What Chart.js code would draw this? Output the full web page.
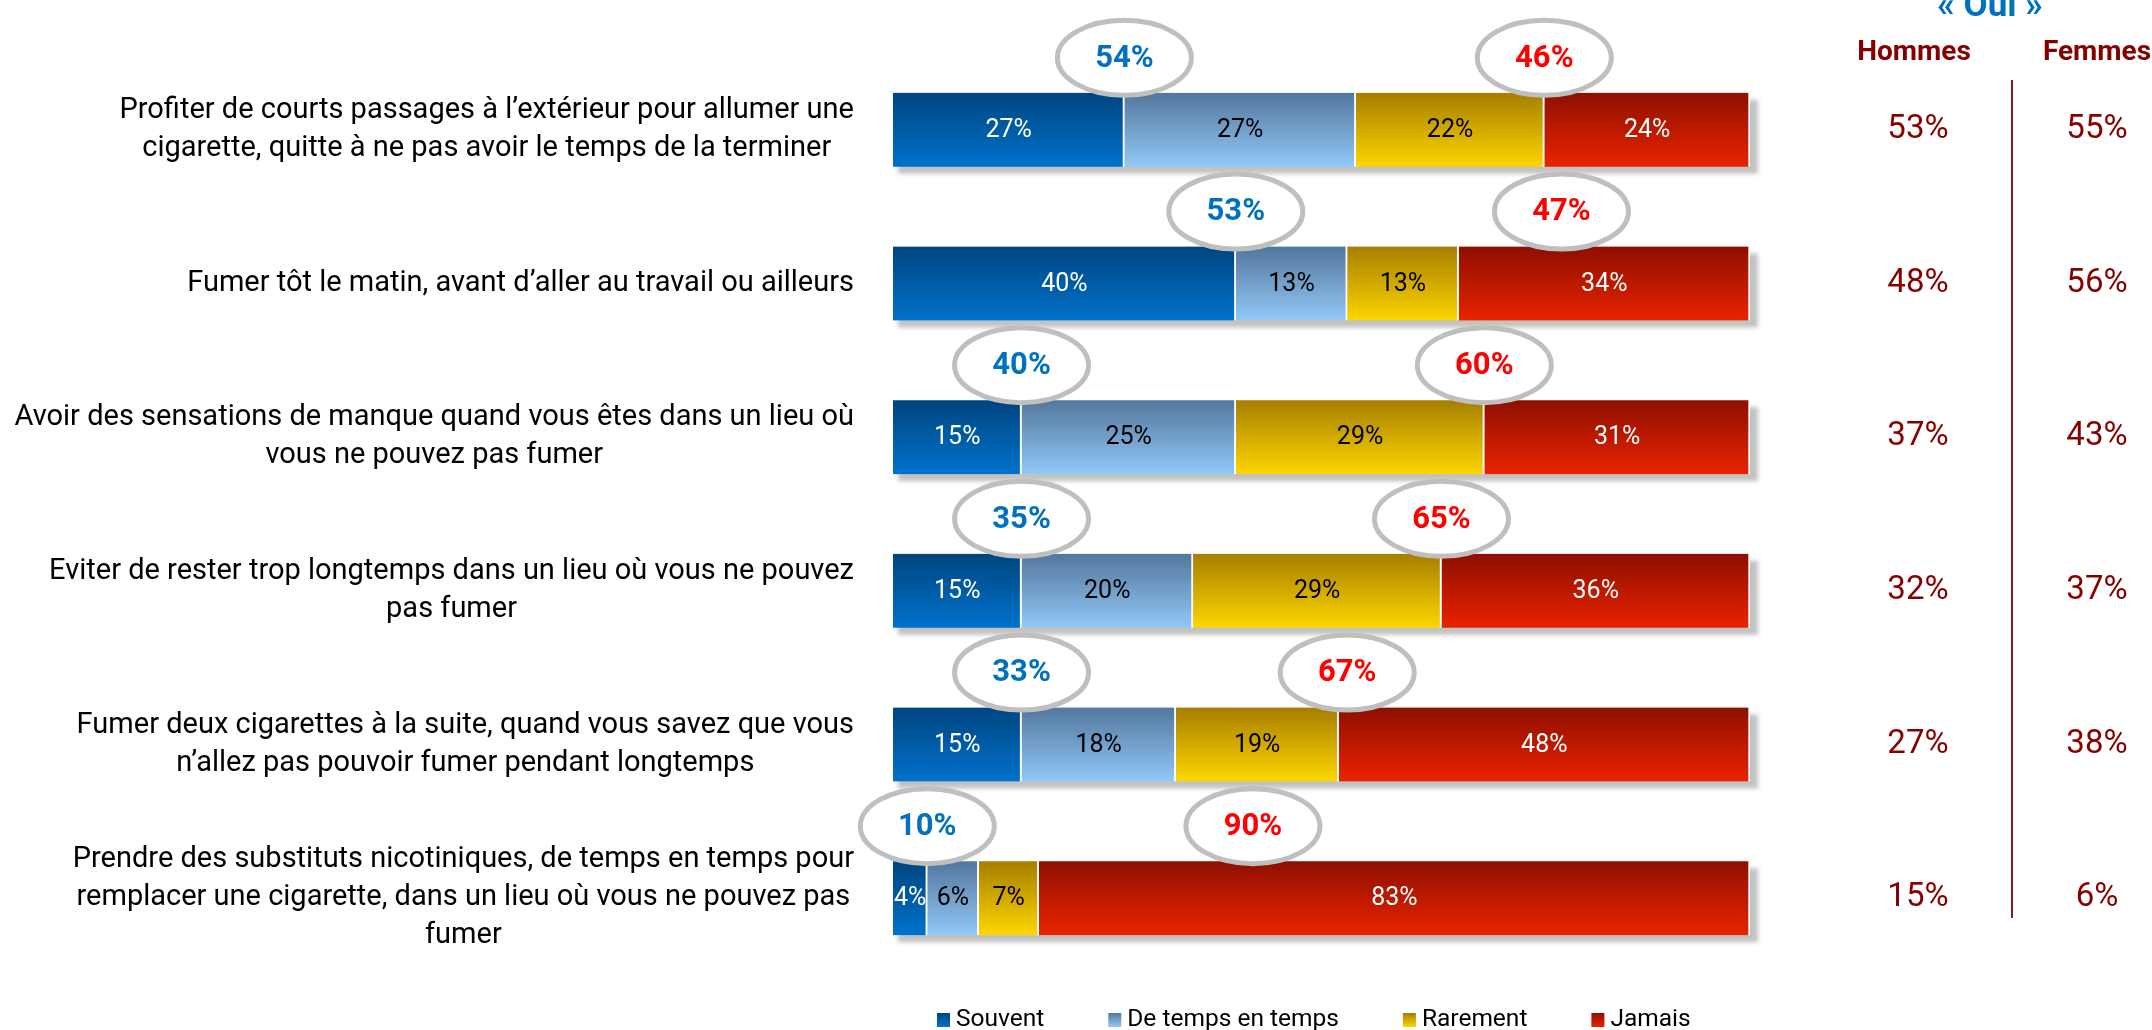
<!DOCTYPE html>
<html>
<head>
<meta charset="utf-8">
<script src="https://cdn.jsdelivr.net/npm/chart.js@4/dist/chart.umd.min.js"></script>
<style>
  html, body { margin: 0; padding: 0; background: #fff; }
  #wrap { width: 2152px; height: 1030px; position: relative; }
</style>
</head>
<body>
<div id="wrap"><canvas id="habitsChart"></canvas></div>
<script>
 const items = [
   ["Profiter de courts passages à l’extérieur pour allumer une", "cigarette, quitte à ne pas avoir le temps de la terminer"],
   ["Fumer tôt le matin, avant d’aller au travail ou ailleurs"],
   ["Avoir des sensations de manque quand vous êtes dans un lieu où", "vous ne pouvez pas fumer"],
   ["Eviter de rester trop longtemps dans un lieu où vous ne pouvez", "pas fumer"],
   ["Fumer deux cigarettes à la suite, quand vous savez que vous", "n’allez pas pouvoir fumer pendant longtemps"],
   ["Prendre des substituts nicotiniques, de temps en temps pour", "remplacer une cigarette, dans un lieu où vous ne pouvez pas", "fumer"]
 ];
 const souvent  = [27, 40, 15, 15, 15, 4];
 const deTemps  = [27, 13, 25, 20, 18, 6];
 const rarement = [22, 13, 29, 29, 19, 7];
 const jamais   = [24, 34, 31, 36, 48, 83];
 const ouiHommes = [53, 48, 37, 32, 27, 15];
 const ouiFemmes = [55, 56, 43, 37, 38, 6];
 const seriesNames = ["Souvent", "De temps en temps", "Rarement", "Jamais"];

 const FONT = "Roboto, 'Noto Sans', sans-serif";
 const barH = 74;
 const darkRed = '#860000';

 // vertical gradient for each bar segment, like the office-style bars
 function fade(top, bottom) {
    return function (c) {
       const y = c.chart.scales.y;
       if (c.type !== 'data' || !y) return bottom;
       const mid = y.getPixelForValue(c.dataIndex);
       if (!isFinite(mid)) return bottom;
       const g = c.chart.ctx.createLinearGradient(0, mid - barH / 2, 0, mid + barH / 2);
       g.addColorStop(0, top);
       g.addColorStop(1, bottom);
       return g;
    };
 }

 const palette = [
    { top: '#00457f', bottom: '#0072cc', text: '#fff' },
    { top: '#53779d', bottom: '#92c8f7', text: '#000' },
    { top: '#a67e00', bottom: '#fdd600', text: '#000' },
    { top: '#8e0f00', bottom: '#ea2300', text: '#fff' }
 ];

 const allSeries = [souvent, deTemps, rarement, jamais];

 const datasets = allSeries.map(function (values, k) {
    return {
       label: seriesNames[k],
       data: values,
       backgroundColor: fade(palette[k].top, palette[k].bottom),
       borderColor: '#ffffff',
       borderWidth: { left: 0, right: 2, top: 0, bottom: 0 },
       borderSkipped: false,
       barThickness: barH
    };
 });

 // soft grey drop shadow under every bar row
 const shadowPlugin = {
    id: 'rowShadow',
    beforeDatasetsDraw(chart) {
       const ctx = chart.ctx, x = chart.scales.x, y = chart.scales.y;
       ctx.save();
       ctx.fillStyle = '#c2c2c2';
       ctx.filter = 'blur(2px)';
       items.forEach(function (_, i) {
          const total = souvent[i] + deTemps[i] + rarement[i] + jamais[i];
          const mid = y.getPixelForValue(i);
          const x0 = x.getPixelForValue(0), x1 = x.getPixelForValue(total);
          ctx.fillRect(x0 + 5, mid - barH / 2 + 7, x1 - x0 + 3, barH);
       });
       ctx.restore();
    }
 };

 // labels inside the segments and the two ellipses above each bar
 const valuePlugin = {
    id: 'barValues',
    afterDatasetsDraw(chart) {
       const ctx = chart.ctx, x = chart.scales.x, y = chart.scales.y;
       ctx.save();
       ctx.textAlign = 'center';
       ctx.textBaseline = 'middle';
       ctx.font = '25px ' + FONT;
       chart.data.datasets.forEach(function (ds, k) {
          const meta = chart.getDatasetMeta(k);
          meta.data.forEach(function (bar, i) {
             ctx.fillStyle = palette[k].text;
             ctx.fillText(ds.data[i] + '%', (bar.x + bar.base) / 2, bar.y + 1);
          });
       });

       items.forEach(function (_, i) {
          const mid = y.getPixelForValue(i);
          const cy = mid - 72;
          const yes = souvent[i] + deTemps[i];
          const no = rarement[i] + jamais[i];
          const jamaisStart = souvent[i] + deTemps[i] + rarement[i];
          const bubbles = [
             { at: souvent[i], txt: yes + '%', col: '#0070c0' },
             { at: Math.max(jamaisStart, souvent[i] + 38), txt: no + '%', col: '#ff0000' }
          ];
          bubbles.forEach(function (b) {
             const cx = x.getPixelForValue(b.at);
             ctx.beginPath();
             ctx.ellipse(cx, cy, 67, 37.5, 0, 0, Math.PI * 2);
             ctx.fillStyle = '#fff';
             ctx.fill();
             ctx.lineWidth = 5;
             ctx.strokeStyle = '#bfbfbf';
             ctx.stroke();
             ctx.fillStyle = b.col;
             ctx.font = 'bold 31px ' + FONT;
             ctx.fillText(b.txt, cx, cy + 1);
          });
       });
       ctx.restore();
    }
 };

 // item texts on the left, "Oui" columns on the right, legend at the bottom
 const sidePlugin = {
    id: 'sideTexts',
    afterDraw(chart) {
       const ctx = chart.ctx, y = chart.scales.y, area = chart.chartArea;
       ctx.save();
       ctx.textBaseline = 'middle';

       ctx.font = '29px ' + FONT;
       ctx.fillStyle = '#000';
       ctx.textAlign = 'center';
       items.forEach(function (lines, i) {
          const mid = y.getPixelForValue(i);
          const maxW = Math.max.apply(null, lines.map(function (l) { return ctx.measureText(l).width; }));
          const cx = area.left - 39 - maxW / 2;
          lines.forEach(function (l, j) {
             ctx.fillText(l, cx, mid + (j - (lines.length - 1) / 2) * 38);
          });
       });

       const colH = area.right + 168, colF = area.right + 347;
       ctx.textBaseline = 'alphabetic';
       ctx.font = 'bold 35px ' + FONT;
       ctx.fillStyle = '#0070c0';
       ctx.fillText('« Oui »', area.right + 240, 16);
       ctx.font = 'bold 28px ' + FONT;
       ctx.fillStyle = darkRed;
       ctx.fillText('Hommes', area.right + 164, 60);
       ctx.fillText('Femmes', colF, 60);

       ctx.textBaseline = 'middle';
       ctx.font = '33px ' + FONT;
       items.forEach(function (_, i) {
          const mid = y.getPixelForValue(i);
          ctx.fillText(ouiHommes[i] + '%', colH, mid);
          ctx.fillText(ouiFemmes[i] + '%', colF, mid);
       });

       ctx.strokeStyle = '#8c1c1c';
       ctx.lineWidth = 2;
       ctx.beginPath();
       ctx.moveTo(area.right + 262, 80);
       ctx.lineTo(area.right + 262, 918);
       ctx.stroke();

       // legend
       ctx.font = '24.5px ' + FONT;
       ctx.textAlign = 'left';
       let lx = area.left + 44;
       const ly = 1020;
       seriesNames.forEach(function (name, k) {
          const g = ctx.createLinearGradient(0, ly - 7, 0, ly + 7);
          g.addColorStop(0, palette[k].top);
          g.addColorStop(1, palette[k].bottom);
          ctx.fillStyle = g;
          ctx.fillRect(lx, ly - 7, 13, 14);
          ctx.fillStyle = '#000';
          ctx.fillText(name, lx + 19, ly);
          lx += 19 + ctx.measureText(name).width + 64;
       });
       ctx.restore();
    }
 };

 const config = {
    type: 'bar',
    data: {
       labels: items.map(function (l) { return l.join(' '); }),
       datasets: datasets
    },
    options: {
       indexAxis: 'y',
       responsive: true,
       maintainAspectRatio: false,
       animation: false,
       layout: {
          padding: { left: 893, right: 402, top: 53, bottom: 55 }
       },
       scales: {
          x: { stacked: true, min: 0, max: 100, display: false },
          y: { stacked: true, display: false }
       },
       plugins: {
          legend: { display: false },
          tooltip: { enabled: false }
       }
    },
    plugins: [shadowPlugin, valuePlugin, sidePlugin]
 };

 const habitsChart = new Chart(
    document.getElementById('habitsChart'),
    config
 );
</script>
</body>
</html>
